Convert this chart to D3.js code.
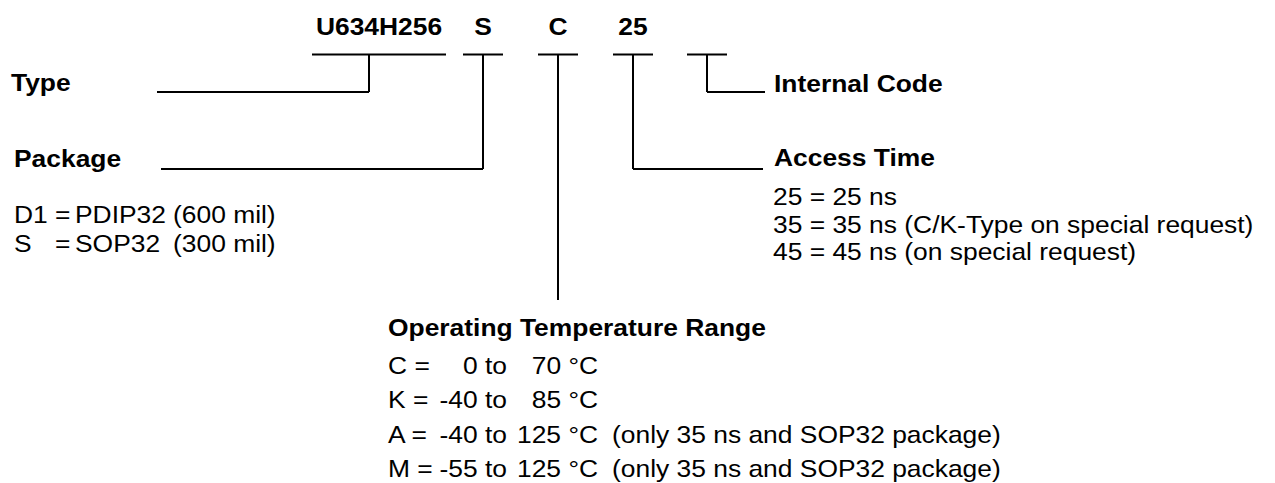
<!DOCTYPE html>
<html><head><meta charset="utf-8">
<script src="https://cdn.jsdelivr.net/npm/d3@7"></script>
<style>
html,body{margin:0;padding:0;background:#fff;}
svg text{font-family:"Liberation Sans",Arial,Helvetica,sans-serif;fill:#000;}
</style></head>
<body><div id="chart"></div>
<script>
// ---- content ----
const fieldCodes = ["U634H256", "S", "C", "25", ""];
const fieldNames = ["Type", "Package", "Operating Temperature Range", "Access Time", "Internal Code"];
const packageCodes = ["D1", "S"];
const packageNames = ["PDIP32", "SOP32"];
const packageSizes = ["(600 mil)", "(300 mil)"];
const accessLines = ["25 = 25 ns", "35 = 35 ns (C/K-Type on special request)", "45 = 45 ns (on special request)"];
const tempCodes = ["C", "K", "A", "M"];
const tempLow = ["0", "-40", "-40", "-55"];
const tempHigh = ["70", "85", "125", "125"];
const tempNotes = ["", "", "(only 35 ns and SOP32 package)", "(only 35 ns and SOP32 package)"];

// ---- layout ----
const W = 1275, H = 483;
const svg = d3.select("#chart").append("svg").attr("width", W).attr("height", H);
const fs = 24, sxB = 1.1, sxR = 1.1;
const barCenter = [379, 483, 558, 633, 707];
const vertX = d3.scaleOrdinal().domain(d3.range(5)).range([369, 483, 558, 633, 707]);
const barHalf = [67, 20, 20, 20, 20];
const yTitle = 35, yBar = 54.5;
const yLine = [92, 169, 300, 169, 92];

function txt(x, y, s, bold, anchor) {
  return svg.append("text")
    .attr("transform", `translate(${x},${y}) scale(${bold ? sxB : sxR},1)`)
    .attr("font-size", fs).attr("font-weight", bold ? "bold" : "normal")
    .attr("text-anchor", anchor || "start").text(s);
}

const g = svg.append("g").attr("stroke", "#000").attr("stroke-width", 2).attr("fill", "none");

// code texts
fieldCodes.forEach((d, i) => { if (d) txt(barCenter[i], yTitle, d, true, "middle"); });

// bars
g.selectAll("line.bar").data(fieldCodes).join("line").attr("class", "bar")
  .attr("x1", (d, i) => barCenter[i] - barHalf[i]).attr("x2", (d, i) => barCenter[i] + barHalf[i])
  .attr("y1", yBar).attr("y2", yBar);
// verticals
g.selectAll("line.vert").data(fieldCodes).join("line").attr("class", "vert")
  .attr("x1", (d, i) => vertX(i)).attr("x2", (d, i) => vertX(i))
  .attr("y1", yBar).attr("y2", (d, i) => yLine[i]);
// horizontal leaders
const leaders = [[157, 369, 92], [161, 483, 169], [633, 763, 169], [707, 765, 92]];
g.selectAll("line.lead").data(leaders).join("line").attr("class", "lead")
  .attr("x1", d => d[0]).attr("x2", d => d[1]).attr("y1", d => d[2]).attr("y2", d => d[2]);

// field name labels
const labelPos = [[11, 91], [14, 167], [388, 336], [774, 166], [774, 92]];
fieldNames.forEach((d, i) => txt(labelPos[i][0], labelPos[i][1], d, true));

// package lines
const pkgY = d3.scalePoint().domain(d3.range(packageCodes.length)).range([223, 252]);
packageCodes.forEach((c, i) => {
  const y = pkgY(i);
  txt(14, y, c, false);
  txt(55, y, "=", false);
  txt(75, y, packageNames[i], false);
  txt(173, y, packageSizes[i], false);
});

// access time lines
const accY = d3.scalePoint().domain(d3.range(accessLines.length)).range([205, 260]);
accessLines.forEach((d, i) => txt(773, accY(i), d, false));

// temperature lines
const tY = d3.scalePoint().domain(d3.range(tempCodes.length)).range([374, 477]);
tempCodes.forEach((c, i) => {
  const y = tY(i);
  txt(388, y, c + " =", false);
  txt(507, y, tempLow[i] + " to", false, "end");
  txt(598, y, tempHigh[i] + " \u00B0C", false, "end");
  if (tempNotes[i]) txt(612, y, tempNotes[i], false);
});
</script></body></html>
